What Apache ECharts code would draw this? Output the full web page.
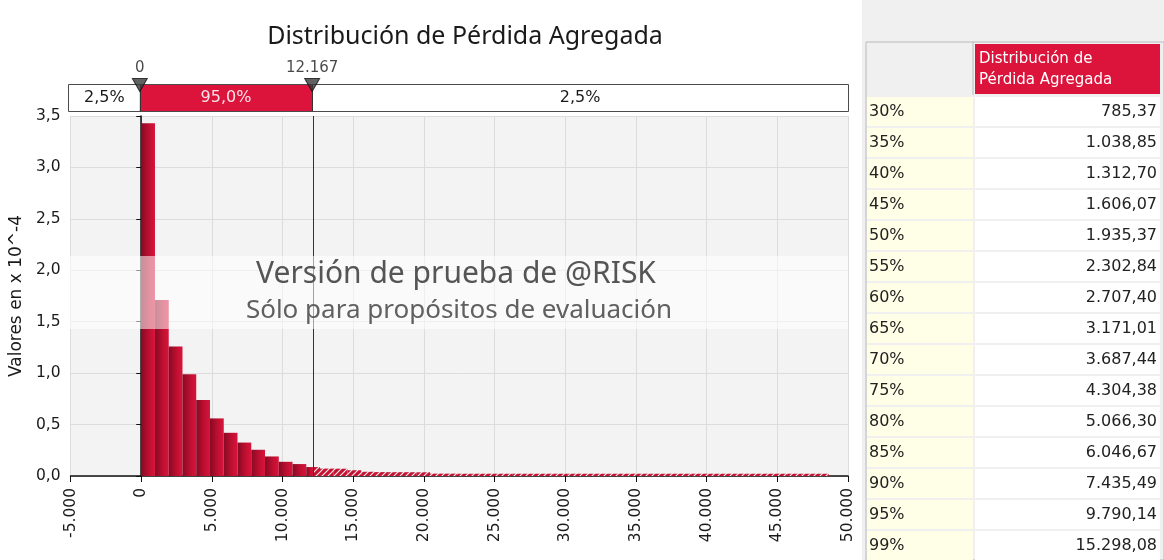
<!DOCTYPE html>
<html>
<head>
<meta charset="utf-8">
<script src="https://cdn.jsdelivr.net/npm/echarts@6/dist/echarts.min.js"></script>
<style>
  html, body { margin: 0; padding: 0; background: #fff; }
  #chart { width: 1164px; height: 560px; }
</style>
</head>
<body>
<div id="chart"></div>
<script>
// datos del histograma (densidad en x 10^-4)
const binWidth = 973;
const density = [3.43, 1.71, 1.26, 0.99, 0.74, 0.56, 0.42, 0.325, 0.255, 0.19,
    0.138, 0.116, 0.087, 0.072, 0.071, 0.056, 0.041, 0.038, 0.037, 0.037,
    0.036, 0.023, 0.023, 0.022, 0.022, 0.022, 0.022, 0.022, 0.022, 0.022,
    0.022, 0.022, 0.022, 0.022, 0.022, 0.022, 0.022, 0.022, 0.022, 0.022,
    0.022, 0.022, 0.022, 0.022, 0.022, 0.022, 0.022, 0.022, 0.022, 0.022];

// limites del 95%
const lowerCut = 0;
const upperCut = 12167;
const stripLabels = ['2,5%', '95,0%', '2,5%'];

// ejes
const xMin = -5000, xMax = 50000, xStep = 5000;
const yMin = 0, yMax = 3.5, yStep = 0.5;

// tabla de percentiles
const percentiles = ['30%', '35%', '40%', '45%', '50%', '55%', '60%', '65%',
    '70%', '75%', '80%', '85%', '90%', '95%', '99%'];
const quantiles = [785.37, 1038.85, 1312.70, 1606.07, 1935.37, 2302.84, 2707.40,
    3171.01, 3687.44, 4304.38, 5066.30, 6046.67, 7435.49, 9790.14, 15298.08];

function miles(v) {
    const s = Math.abs(Math.round(v)).toString().replace(/\B(?=(\d{3})+(?!\d))/g, '.');
    return (v < 0 ? '-' : '') + s;
}
function decimal(v) {
    const parts = v.toFixed(2).split('.');
    return parts[0].replace(/\B(?=(\d{3})+(?!\d))/g, '.') + ',' + parts[1];
}

const chartDom = document.getElementById('chart');
const myChart = echarts.init(chartDom);

const barFill = new echarts.graphic.LinearGradient(0, 0, 1, 0, [
    { offset: 0, color: '#860a24' },
    { offset: 0.55, color: '#bd0f30' },
    { offset: 1, color: '#d9143c' }
]);

// patron rayado para la cola derecha
const hatch = document.createElement('canvas');
hatch.width = 6; hatch.height = 6;
const hctx = hatch.getContext('2d');
hctx.fillStyle = '#c41232';
hctx.fillRect(0, 0, 6, 6);
hctx.strokeStyle = 'rgba(255,255,255,0.9)';
hctx.lineWidth = 1.2;
hctx.beginPath();
hctx.moveTo(0, 6); hctx.lineTo(6, 0);
hctx.moveTo(-1, 1); hctx.lineTo(1, -1);
hctx.moveTo(5, 7); hctx.lineTo(7, 5);
hctx.stroke();
const hatchFill = { image: hatch, repeat: 'repeat' };

const histData = density.map((d, i) => [i * binWidth, (i + 1) * binWidth, d]);

function renderBar(params, api) {
    const x0 = api.value(0), x1 = api.value(1), y = api.value(2);
    const children = [];
    function rect(a, b, fill) {
        const p0 = api.coord([a, y]);
        const p1 = api.coord([b, 0]);
        children.push({
            type: 'rect',
            shape: { x: p0[0], y: p0[1], width: p1[0] - p0[0], height: p1[1] - p0[1] },
            style: { fill: fill }
        });
    }
    if (x1 <= upperCut) {
        rect(x0, x1, barFill);
    } else if (x0 >= upperCut) {
        rect(x0, x1, hatchFill);
    } else {
        rect(x0, upperCut, barFill);
        rect(upperCut, x1, hatchFill);
    }
    return { type: 'group', children: children };
}

// franja superior
const bounds = [xMin, lowerCut, upperCut, xMax];
const stripData = stripLabels.map((l, i) => [bounds[i], bounds[i + 1], l]);

function renderStrip(params, api) {
    const p0 = api.coord([api.value(0), 1]);
    const p1 = api.coord([api.value(1), 0]);
    const mid = params.dataIndex === 1;
    return {
        type: 'rect',
        shape: { x: p0[0], y: p0[1], width: p1[0] - p0[0], height: p1[1] - p0[1] },
        style: { fill: mid ? '#dc143c' : '#ffffff' },
        textContent: {
            style: {
                text: stripLabels[params.dataIndex],
                fill: mid ? '#fbe3e8' : '#1a1a1a',
                fontSize: 16,
                fontFamily: 'DejaVu Sans'
            }
        },
        textConfig: { position: 'inside' }
    };
}

// tabla
const tX = 866, tW1 = 106, tX2 = 974, tW2 = 186, rowTop = 97, rowH = 31;
const cellFont = { fontSize: 16, fontFamily: 'DejaVu Sans', fill: '#222', verticalAlign: 'middle' };
const tableEls = [
    { type: 'rect', shape: { x: 862, y: 0, width: 302, height: 560 }, style: { fill: '#f0f0f0' }, silent: true },
    { type: 'rect', shape: { x: tX, y: 42, width: 298, height: 518 }, style: { fill: '#f0f0f0', stroke: '#b9b9b9', lineWidth: 1 }, silent: true },
    { type: 'rect', shape: { x: tX2 + 1, y: 44, width: tW2 - 1, height: 50 }, style: { fill: '#dc143c' }, silent: true },
    { type: 'text', x: tX2 + 5, y: 49, style: { text: 'Distribución de\nPérdida Agregada', fill: '#ffffff', fontSize: 15, lineHeight: 21, fontFamily: 'DejaVu Sans' }, silent: true },
    { type: 'line', shape: { x1: tX2 - 1, y1: 42, x2: tX2 - 1, y2: 95 }, style: { stroke: '#b9b9b9', lineWidth: 1 }, silent: true }
];
percentiles.forEach((p, i) => {
    const y = rowTop + i * rowH;
    tableEls.push({ type: 'rect', shape: { x: tX + 1, y: y, width: tW1, height: rowH - 2 }, style: { fill: '#fffee6' }, silent: true });
    tableEls.push({ type: 'rect', shape: { x: tX2 + 1, y: y, width: tW2 - 1, height: rowH - 2 }, style: { fill: '#ffffff' }, silent: true });
    tableEls.push({ type: 'text', x: tX + 3, y: y + rowH / 2 - 1, style: Object.assign({ text: p }, cellFont), silent: true });
    tableEls.push({ type: 'text', x: tX2 + tW2 - 3, y: y + rowH / 2 - 1, style: Object.assign({ text: decimal(quantiles[i]), align: 'right' }, cellFont), silent: true });
});

// marca de agua
const watermark = [
    { type: 'rect', shape: { x: 69, y: 256, width: 779, height: 73 }, style: { fill: 'rgba(255,255,255,0.55)' }, z: 100, silent: true },
    { type: 'text', x: 456, y: 274, style: { text: 'Versión de prueba de @RISK', fill: '#555', fontSize: 30, fontFamily: 'Noto Sans', align: 'center', verticalAlign: 'middle' }, z: 101, silent: true },
    { type: 'text', x: 459, y: 311, style: { text: 'Sólo para propósitos de evaluación', fill: '#606060', fontSize: 26, fontFamily: 'Noto Sans', align: 'center', verticalAlign: 'middle' }, z: 101, silent: true }
];

const axisText = { color: '#1a1a1a', fontSize: 15.5, fontFamily: 'DejaVu Sans' };

const option = {
    animation: false,
    title: {
        text: 'Distribución de Pérdida Agregada',
        left: 460,
        textAlign: 'center',
        top: 19,
        textStyle: { fontSize: 25, fontWeight: 'normal', fontFamily: 'Noto Sans', color: '#1a1a1a' }
    },
    grid: [
        { left: 69, right: 316, top: 116, bottom: 84, show: true, backgroundColor: '#f3f3f3', borderWidth: 0 },
        { left: 69, right: 316, top: 85, height: 26, show: true, backgroundColor: '#fff', borderColor: '#111', borderWidth: 1.5 }
    ],
    xAxis: [
        {
            type: 'value', gridIndex: 0, min: xMin, max: xMax, interval: xStep,
            axisLine: { show: true, onZero: false, lineStyle: { color: '#111', width: 1.5 } },
            axisTick: { show: true, length: 6, lineStyle: { color: '#111' } },
            splitLine: { show: true, lineStyle: { color: '#dcdcdc' } },
            axisLabel: Object.assign({ rotate: 90, margin: 12, formatter: miles }, axisText)
        },
        { type: 'value', gridIndex: 1, min: xMin, max: xMax, show: false }
    ],
    yAxis: [
        {
            type: 'value', gridIndex: 0, min: yMin, max: yMax, interval: yStep,
            name: 'Valores en x 10^-4', nameLocation: 'middle', nameGap: 44, nameRotate: 90,
            nameTextStyle: { color: '#1a1a1a', fontSize: 17, fontFamily: 'DejaVu Sans' },
            axisLine: { show: true, lineStyle: { color: '#111', width: 1.5 } },
            axisTick: { show: true, length: 5, lineStyle: { color: '#111' } },
            splitLine: { show: true, lineStyle: { color: '#dcdcdc' } },
            axisLabel: Object.assign({ margin: 10, formatter: v => v.toFixed(1).replace('.', ',') }, axisText)
        },
        { type: 'value', gridIndex: 1, min: 0, max: 1, show: false }
    ],
    series: [
        {
            type: 'custom',
            xAxisIndex: 0, yAxisIndex: 0,
            renderItem: renderBar,
            data: histData,
            encode: { x: [0, 1], y: 2 },
            markLine: {
                silent: true, symbol: 'none', label: { show: false },
                lineStyle: { color: '#333', width: 1, type: 'solid' },
                data: [{ xAxis: lowerCut }, { xAxis: upperCut }]
            }
        },
        {
            type: 'custom',
            xAxisIndex: 1, yAxisIndex: 1,
            renderItem: renderStrip,
            data: stripData,
            encode: { x: [0, 1] },
            markLine: {
                silent: true, symbol: 'none', label: { show: false },
                lineStyle: { color: '#333', width: 1, type: 'solid' },
                data: [{ xAxis: lowerCut }, { xAxis: upperCut }]
            }
        },
        {
            type: 'scatter',
            xAxisIndex: 1, yAxisIndex: 1,
            data: [[lowerCut, 1], [upperCut, 1]],
            symbol: 'triangle', symbolRotate: 180, symbolSize: [15, 13],
            itemStyle: { color: '#3a3a3a', borderColor: '#111', borderWidth: 1 },
            z: 10,
            label: {
                show: true, position: 'top', distance: 2,
                formatter: p => miles(p.value[0]),
                color: '#1a1a1a', fontSize: 15, fontFamily: 'DejaVu Sans'
            }
        }
    ],
    graphic: tableEls.concat(watermark)
};

myChart.setOption(option);
</script>
</body>
</html>
